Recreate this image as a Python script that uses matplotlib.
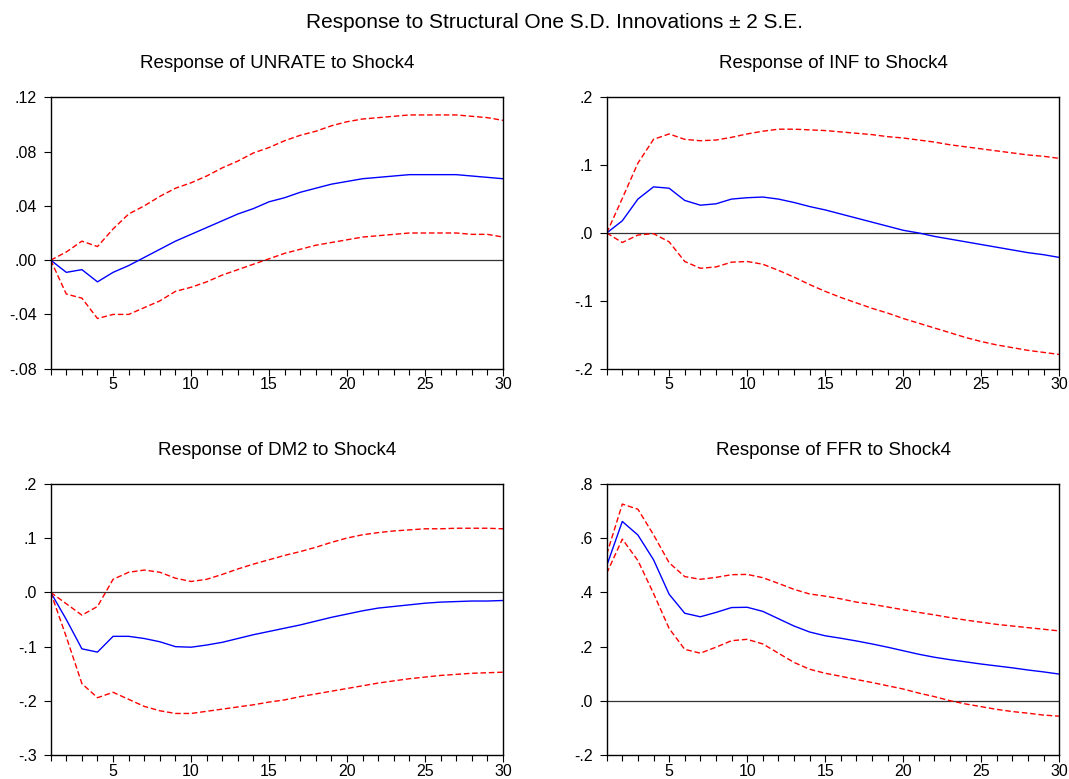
import matplotlib
matplotlib.use("Agg")
import matplotlib.pyplot as plt
import numpy as np

plt.rcParams['font.family'] = ['Liberation Sans', 'DejaVu Sans']

# horizon 1..30
periods = list(range(1, 31))

# Response of UNRATE
unrate_resp = [0, -0.009, -0.007, -0.016, -0.009, -0.004, 0.002, 0.008, 0.014, 0.019,
               0.024, 0.029, 0.034, 0.038, 0.043, 0.046, 0.050, 0.053, 0.056, 0.058,
               0.060, 0.061, 0.062, 0.063, 0.063, 0.063, 0.063, 0.062, 0.061, 0.060]
unrate_hi = [0, 0.006, 0.014, 0.010, 0.023, 0.034, 0.040, 0.047, 0.053, 0.057,
             0.062, 0.068, 0.073, 0.079, 0.083, 0.088, 0.092, 0.095, 0.099, 0.102,
             0.104, 0.105, 0.106, 0.107, 0.107, 0.107, 0.107, 0.106, 0.105, 0.103]
unrate_lo = [0, -0.025, -0.028, -0.043, -0.040, -0.040, -0.035, -0.030, -0.023, -0.020,
             -0.016, -0.011, -0.007, -0.003, 0.001, 0.005, 0.008, 0.011, 0.013, 0.015,
             0.017, 0.018, 0.019, 0.020, 0.020, 0.020, 0.020, 0.019, 0.019, 0.017]

# Response of INF
inf_resp = [0, 0.018, 0.050, 0.068, 0.066, 0.048, 0.041, 0.043, 0.050, 0.052,
            0.053, 0.050, 0.045, 0.039, 0.034, 0.028, 0.022, 0.016, 0.010, 0.004,
            0.000, -0.005, -0.009, -0.013, -0.017, -0.021, -0.025, -0.029, -0.032, -0.036]
inf_hi = [0, 0.051, 0.103, 0.138, 0.146, 0.138, 0.136, 0.137, 0.141, 0.146,
          0.150, 0.153, 0.153, 0.152, 0.151, 0.149, 0.147, 0.145, 0.142, 0.140,
          0.137, 0.134, 0.130, 0.127, 0.124, 0.121, 0.118, 0.115, 0.113, 0.110]
inf_lo = [0, -0.014, -0.003, -0.001, -0.013, -0.042, -0.052, -0.050, -0.043, -0.042,
          -0.046, -0.055, -0.065, -0.076, -0.086, -0.095, -0.103, -0.111, -0.118, -0.126,
          -0.133, -0.140, -0.147, -0.154, -0.160, -0.165, -0.169, -0.173, -0.176, -0.179]

# Response of DM2
dm2_resp = [0, -0.050, -0.104, -0.110, -0.081, -0.081, -0.085, -0.091, -0.100, -0.101,
            -0.097, -0.092, -0.085, -0.078, -0.072, -0.066, -0.060, -0.053, -0.046, -0.040,
            -0.034, -0.029, -0.026, -0.023, -0.020, -0.018, -0.017, -0.016, -0.016, -0.015]
dm2_hi = [0, -0.021, -0.042, -0.026, 0.024, 0.037, 0.041, 0.037, 0.026, 0.020,
          0.024, 0.033, 0.043, 0.052, 0.060, 0.068, 0.075, 0.083, 0.092, 0.100,
          0.106, 0.110, 0.113, 0.115, 0.117, 0.117, 0.118, 0.118, 0.118, 0.117]
dm2_lo = [0, -0.082, -0.168, -0.194, -0.184, -0.197, -0.210, -0.218, -0.223, -0.223,
          -0.219, -0.215, -0.211, -0.207, -0.202, -0.198, -0.192, -0.187, -0.182, -0.177,
          -0.172, -0.167, -0.163, -0.159, -0.156, -0.153, -0.151, -0.149, -0.148, -0.147]

# Response of FFR
ffr_resp = [0.498, 0.661, 0.611, 0.520, 0.393, 0.323, 0.310, 0.326, 0.344, 0.345,
            0.330, 0.303, 0.276, 0.254, 0.240, 0.231, 0.221, 0.210, 0.198, 0.185,
            0.172, 0.161, 0.152, 0.144, 0.136, 0.129, 0.122, 0.114, 0.107, 0.099]
ffr_hi = [0.540, 0.725, 0.706, 0.612, 0.509, 0.458, 0.448, 0.455, 0.465, 0.466,
          0.454, 0.433, 0.411, 0.394, 0.386, 0.376, 0.364, 0.356, 0.346, 0.336,
          0.326, 0.317, 0.307, 0.298, 0.290, 0.282, 0.276, 0.270, 0.264, 0.258]
ffr_lo = [0.470, 0.596, 0.517, 0.396, 0.267, 0.190, 0.176, 0.198, 0.222, 0.227,
          0.210, 0.176, 0.142, 0.117, 0.102, 0.091, 0.079, 0.068, 0.056, 0.044,
          0.029, 0.016, 0.001, -0.011, -0.021, -0.031, -0.039, -0.045, -0.052, -0.056]

titles = ["Response of UNRATE to Shock4", "Response of INF to Shock4",
          "Response of DM2 to Shock4", "Response of FFR to Shock4"]
series = [(unrate_resp, unrate_lo, unrate_hi), (inf_resp, inf_lo, inf_hi),
          (dm2_resp, dm2_lo, dm2_hi), (ffr_resp, ffr_lo, ffr_hi)]
yticks = [[-0.08, -0.04, 0.0, 0.04, 0.08, 0.12],
          [-0.2, -0.1, 0.0, 0.1, 0.2],
          [-0.3, -0.2, -0.1, 0.0, 0.1, 0.2],
          [-0.2, 0.0, 0.2, 0.4, 0.6, 0.8]]
ytick_labels = [["-.08", "-.04", ".00", ".04", ".08", ".12"],
                ["-.2", "-.1", ".0", ".1", ".2"],
                ["-.3", "-.2", "-.1", ".0", ".1", ".2"],
                ["-.2", ".0", ".2", ".4", ".6", ".8"]]
xticks = [5, 10, 15, 20, 25, 30]

W, H = 1069, 779
fig = plt.figure(figsize=(W / 100, H / 100), dpi=100)

# axes boxes in pixels: left, top, right, bottom
boxes = [(50.7, 97.3, 503, 368.7), (606.7, 97.3, 1059.3, 368.7),
         (50.7, 483.7, 503, 755.3), (606.7, 483.7, 1059.3, 755.3)]

for i in range(4):
    l, t, r, b = boxes[i]
    ax = fig.add_axes([l / W, 1 - b / H, (r - l) / W, (b - t) / H])
    resp, lo, hi = series[i]
    ax.axhline(0, color="#333333", lw=0.9)
    ax.plot(periods, resp, color="#0000FF", lw=1.0)
    ax.plot(periods, hi, color="#FF0000", lw=1.0, dashes=(4, 2))
    ax.plot(periods, lo, color="#FF0000", lw=1.0, dashes=(4, 2))
    ax.set_xlim(1, 30)
    ax.set_ylim(yticks[i][0], yticks[i][-1])
    ax.set_yticks(yticks[i])
    ax.set_yticklabels(ytick_labels[i])
    ax.set_xticks(xticks)
    ax.set_xticks(periods, minor=True)
    ax.tick_params(axis="both", direction="out", length=5, width=0.8,
                   labelsize=11.5, colors="black")
    ax.tick_params(axis="y", pad=5)
    ax.tick_params(axis="x", pad=1)
    ax.tick_params(axis="x", which="minor", direction="out", length=4, width=0.8)
    for s in ax.spines.values():
        s.set_linewidth(1.0)
    ax.set_title(titles[i], fontsize=13.5, pad=21)

fig.text(555 / W, 1 - 22 / H, "Response to Structural One S.D. Innovations \u00b1 2 S.E.",
         ha="center", va="center", fontsize=15)

fig.savefig("out.png", dpi=100)
